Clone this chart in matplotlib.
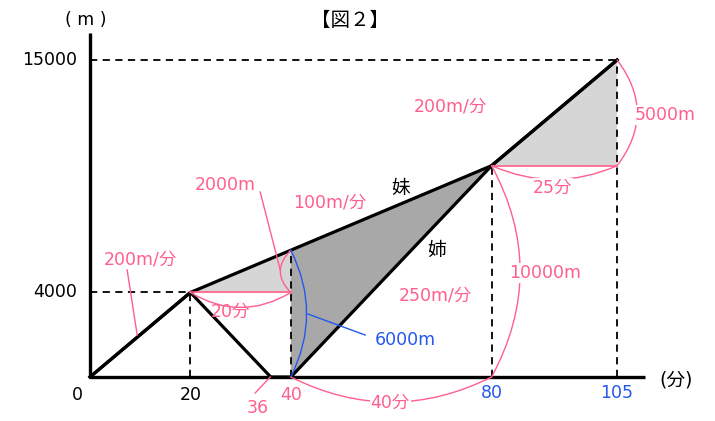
import numpy as np
import matplotlib.pyplot as plt

plt.rcParams['font.family'] = ['DejaVu Sans', 'Noto Sans CJK JP']

# 妹と姉の移動 (分, m)
imouto_t = [0, 20, 80, 105]
imouto_d = [0, 4000, 10000, 15000]
ane_t = [0, 20, 36, 40, 80, 105]
ane_d = [0, 4000, 0, 0, 10000, 15000]

x_ticks = [0, 20, 36, 40, 80, 105]
y_ticks = [4000, 15000]

PINK = '#ff5f8c'
BLUE = '#2457f0'
FS = 12.5

fig = plt.figure(figsize=(7.15, 4.21), dpi=100)
ax = fig.add_axes([0, 0, 1, 1])
ax.set_xlim(-17.93, 124.5)
ax.set_ylim(-2082, 17839)
ax.axis('off')

d40 = np.interp(40, imouto_t, imouto_d)

# 塗りつぶし
ax.fill([20, 40, 40], [4000, d40, 4000], color='#d6d6d6', lw=0)
ax.fill([40, 40, 80], [0, d40, 10000], color='#a8a8a8', lw=0)
ax.fill([80, 105, 105], [10000, 15000, 10000], color='#d6d6d6', lw=0)

# 点線
dash = dict(color='black', lw=1.3, ls=(0, (4, 3)))
ax.plot([0, 105], [15000, 15000], **dash)
ax.plot([0, 20], [4000, 4000], **dash)
ax.plot([20, 20], [0, 4000], **dash)
ax.plot([40, 40], [0, d40], **dash)
ax.plot([80, 80], [0, 10000], **dash)
ax.plot([105, 105], [0, 15000], **dash)

# 軸
ax.plot([0, 0], [0, 16280], color='black', lw=2.4, solid_capstyle='butt')
ax.plot([0, 110.6], [0, 0], color='black', lw=2.4, solid_capstyle='butt')

# グラフ
ax.plot(imouto_t, imouto_d, color='black', lw=2.3)
ax.plot(ane_t, ane_d, color='black', lw=2.3)

# ピンクの水平線
ax.plot([20, 40], [4000, 4000], color=PINK, lw=1.2)
ax.plot([80, 105], [10000, 10000], color=PINK, lw=1.2)


def arc(p1, p2, rad, color=PINK):
    ax.annotate('', xy=p2, xytext=p1,
                arrowprops=dict(arrowstyle='-', connectionstyle=f'arc3,rad={rad}',
                                color=color, lw=1, shrinkA=0, shrinkB=0))


arc((20, 4000), (40, 4000), 0.3)
arc((40, 4000), (40, d40), -0.5)
arc((40, 0), (40, d40), 0.25, BLUE)
arc((40, 0), (80, 0), 0.25)
arc((80, 0), (80, 10000), 0.27)
arc((80, 10000), (105, 10000), 0.22)
arc((105, 10000), (105, 15000), 0.38)

# 引き出し線
ax.plot([33.9, 37.9], [8754, 5063], color=PINK, lw=1)
ax.plot([43.4, 54.8], [2981, 1987], color=BLUE, lw=1)
ax.plot([7.4, 9.4], [5063, 1987], color=PINK, lw=1)
ax.plot([35.9, 32.9], [0, -757], color=PINK, lw=1)

wb = dict(fc='white', ec='none', pad=0.5)


def label(x, y, s, color=PINK, box=False, fs=FS):
    ax.text(x, y, s, color=color, fontsize=fs, ha='center', va='center',
            bbox=wb if box else None)


label(10, 5540, '200m/分')
label(26.9, 9085, '2000m')
label(47.8, 8234, '100m/分')
label(61.8, 8943, '妹', 'black', fs=13.5)
label(69.1, 6010, '姉', 'black', fs=13.5)
label(68.7, 3833, '250m/分')
label(71.7, 12776, '200m/分')
label(114.6, 12398, '5000m', box=True)
label(92.2, 8943, '25分', box=True)
label(90.7, 4921, '10000m', box=True)
label(62.8, 1751, '6000m', BLUE)
label(27.9, 3076, '20分')
label(59.8, -1230, '40分', box=True)

# 目盛りラベル
tick_colors = {0: 'black', 20: 'black', 36: PINK, 40: PINK, 80: BLUE, 105: BLUE}
tick_y = {0: -852, 20: -852, 36: -1467, 40: -852, 80: -757, 105: -757}
for t in x_ticks:
    xx = -2.6 if t == 0 else (33.5 if t == 36 else t)
    label(xx, tick_y[t], str(t), tick_colors[t])
for d in y_ticks:
    ax.text(-2.5, d, str(d), fontsize=FS, ha='right', va='center')

label(-0.8, 16893, '( m )', 'black')
label(51.8, 16893, '【図２】', 'black', fs=14)
label(116.8, -142, '(分)', 'black', fs=13.5)

fig.savefig('out.png', dpi=100)
